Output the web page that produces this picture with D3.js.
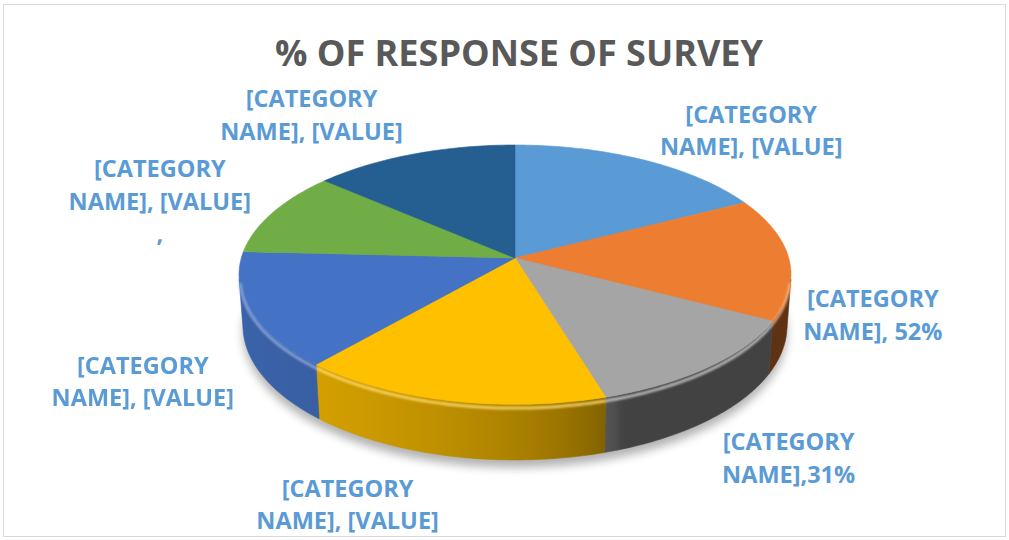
<!DOCTYPE html>
<html>
<head>
<meta charset="utf-8">
<script src="https://cdn.jsdelivr.net/npm/d3@7"></script>
<style>
  body { margin: 0; background: #fff; }
  svg { display: block; font-family: 'Open Sans', sans-serif; }
</style>
</head>
<body>
<svg width="1009" height="540"></svg>
<script>
const titleText = '% OF RESPONSE OF SURVEY';

// slices, clockwise from 12 o'clock
const values = [17.4, 15.3, 12.6, 16.1, 14.4, 10.6, 13.6];
const colors = ['#5B9BD5', '#ED7D31', '#A5A5A5', '#FFC000', '#4472C4', '#70AD47', '#255E91'];
const labelLines = [
    ['[CATEGORY', 'NAME], [VALUE]'],
    ['[CATEGORY', 'NAME], 52%'],
    ['[CATEGORY', 'NAME],31%'],
    ['[CATEGORY', 'NAME], [VALUE]'],
    ['[CATEGORY', 'NAME], [VALUE]'],
    ['[CATEGORY', 'NAME], [VALUE]', ','],
    ['[CATEGORY', 'NAME], [VALUE]']
];

const svg = d3.select('svg');
const width = +svg.attr('width');
const height = +svg.attr('height');

// label nudges from the rim point at each slice's mid angle (Excel best fit)
const labelOffsets = [[108, -37], [84, 49], [80, 83], [-102, 96], [-107, 63], [-113, -35], [-102, -47]];

// 3d disk seen in perspective
const cx = 515, cy = 258, focal = 1883, dist = 6.88;
const sinT = 0.466, cosT = Math.sqrt(1 - sinT * sinT);
const thick = 0.212;
const deg = Math.PI / 180;

const project = (theta, r, depth) => {
    const u = r * Math.sin(theta);
    const v = -r * Math.cos(theta);
    const yc = v * sinT + depth * cosT;
    const zc = dist - v * cosT + depth * sinT;
    return [cx + focal * u / zc, cy + focal * yc / zc];
};

const arcPoints = (a0, a1, r, depth) => {
    const n = Math.max(2, Math.ceil(Math.abs(a1 - a0) / deg));
    return d3.range(n + 1).map(i => project(a0 + (a1 - a0) * i / n, r, depth));
};

const line = d3.line();

// wall is seen between the two silhouette angles
const silhouette = Math.acos(-1 / (dist * cosT));
const wallFrom = silhouette, wallTo = 2 * Math.PI - silhouette;

const light = theta => {
    const d = Math.cos(theta - 250 * deg);
    return 0.40 + 0.46 * Math.sqrt(Math.max(0, d));
};
const shade = (c, theta) => d3.interpolateRgb('#000', c)(light(theta));

const pie = d3.pie().sort(null).value(d => d);
const arcs = pie(values);

const defs = svg.append('defs');
defs.append('filter').attr('id', 'shadow')
    .attr('x', '-20%').attr('y', '-20%').attr('width', '140%').attr('height', '140%')
    .append('feGaussianBlur').attr('stdDeviation', 5);
defs.append('filter').attr('id', 'soft')
    .attr('x', '-20%').attr('y', '-50%').attr('width', '140%').attr('height', '200%')
    .append('feGaussianBlur').attr('stdDeviation', 1.1);

svg.append('rect')
    .attr('x', 3.5).attr('y', 4.5)
    .attr('width', width - 7).attr('height', height - 8)
    .attr('fill', '#fff')
    .attr('stroke', '#D9D9D9');

// shadow under the pie
svg.append('path')
    .attr('d', line(arcPoints(0, 2 * Math.PI, 1, thick + 0.01)) + 'Z')
    .attr('transform', 'translate(0,5)')
    .attr('fill', '#000')
    .attr('opacity', 0.3)
    .attr('filter', 'url(#shadow)');

// visible part of the outer wall for each slice
const walls = arcs
    .filter(a => a.endAngle > wallFrom && a.startAngle < wallTo)
    .map(a => ({
        index: a.index,
        t0: Math.max(a.startAngle, wallFrom),
        t1: Math.min(a.endAngle, wallTo)
    }));

walls.forEach(w => {
    const x0 = project(w.t0, 1, 0)[0];
    const x1 = project(w.t1, 1, 0)[0];
    const grad = defs.append('linearGradient')
        .attr('id', 'wall' + w.index)
        .attr('gradientUnits', 'userSpaceOnUse')
        .attr('x1', x0).attr('x2', x1).attr('y1', 0).attr('y2', 0);
    const n = Math.max(2, Math.ceil((w.t1 - w.t0) / deg));
    d3.range(n + 1).forEach(k => {
        const t = w.t0 + (w.t1 - w.t0) * k / n;
        const x = project(t, 1, 0)[0];
        grad.append('stop')
            .attr('offset', x1 === x0 ? 0 : (x - x0) / (x1 - x0))
            .attr('stop-color', shade(colors[w.index], t));
    });
});

svg.append('g').selectAll('path')
    .data(walls)
    .enter()
    .append('path')
    .attr('d', w => line(arcPoints(w.t0, w.t1, 1, 0).concat(arcPoints(w.t1, w.t0, 1, thick))) + 'Z')
    .attr('fill', w => `url(#wall${w.index})`)
    .attr('stroke', w => `url(#wall${w.index})`)
    .attr('stroke-width', 0.6);

// top face
svg.append('g').selectAll('path')
    .data(arcs)
    .enter()
    .append('path')
    .attr('d', a => line([project(0, 0, 0)].concat(arcPoints(a.startAngle, a.endAngle, 1, 0))) + 'Z')
    .attr('fill', (a, i) => colors[i])
    .attr('stroke', (a, i) => colors[i])
    .attr('stroke-width', 0.6);

// bevel highlight on the front rim
svg.append('g').attr('filter', 'url(#soft)').selectAll('path')
    .data(walls)
    .enter()
    .append('path')
    .attr('d', w => line(arcPoints(w.t0, w.t1, 0.997, 0.016)))
    .attr('fill', 'none')
    .attr('stroke', w => d3.interpolateRgb(colors[w.index], '#fff')(0.4))
    .attr('stroke-width', 3)
    .attr('opacity', 0.85);

// title
svg.append('text')
    .attr('x', 519)
    .attr('y', 66)
    .attr('text-anchor', 'middle')
    .attr('fill', '#595959')
    .attr('textLength', 488)
    .attr('lengthAdjust', 'spacingAndGlyphs')
    .style('font-size', '35px')
    .style('font-weight', 'bold')
    .text(titleText);

// data labels
const labels = svg.append('g').selectAll('text')
    .data(arcs)
    .enter()
    .append('text')
    .attr('text-anchor', 'middle')
    .attr('fill', '#5B9BD5')
    .style('font-size', '23.5px')
    .style('font-weight', 'bold')
    .attr('transform', (a, i) => {
        const p = project((a.startAngle + a.endAngle) / 2, 1, 0);
        return `translate(${p[0] + labelOffsets[i][0]},${p[1] + labelOffsets[i][1]})`;
    });

labels.selectAll('tspan')
    .data((a, i) => labelLines[i])
    .enter()
    .append('tspan')
    .attr('x', 0)
    .attr('y', (d, j) => j * 32.5)
    .text(d => d);
</script>
</body>
</html>
